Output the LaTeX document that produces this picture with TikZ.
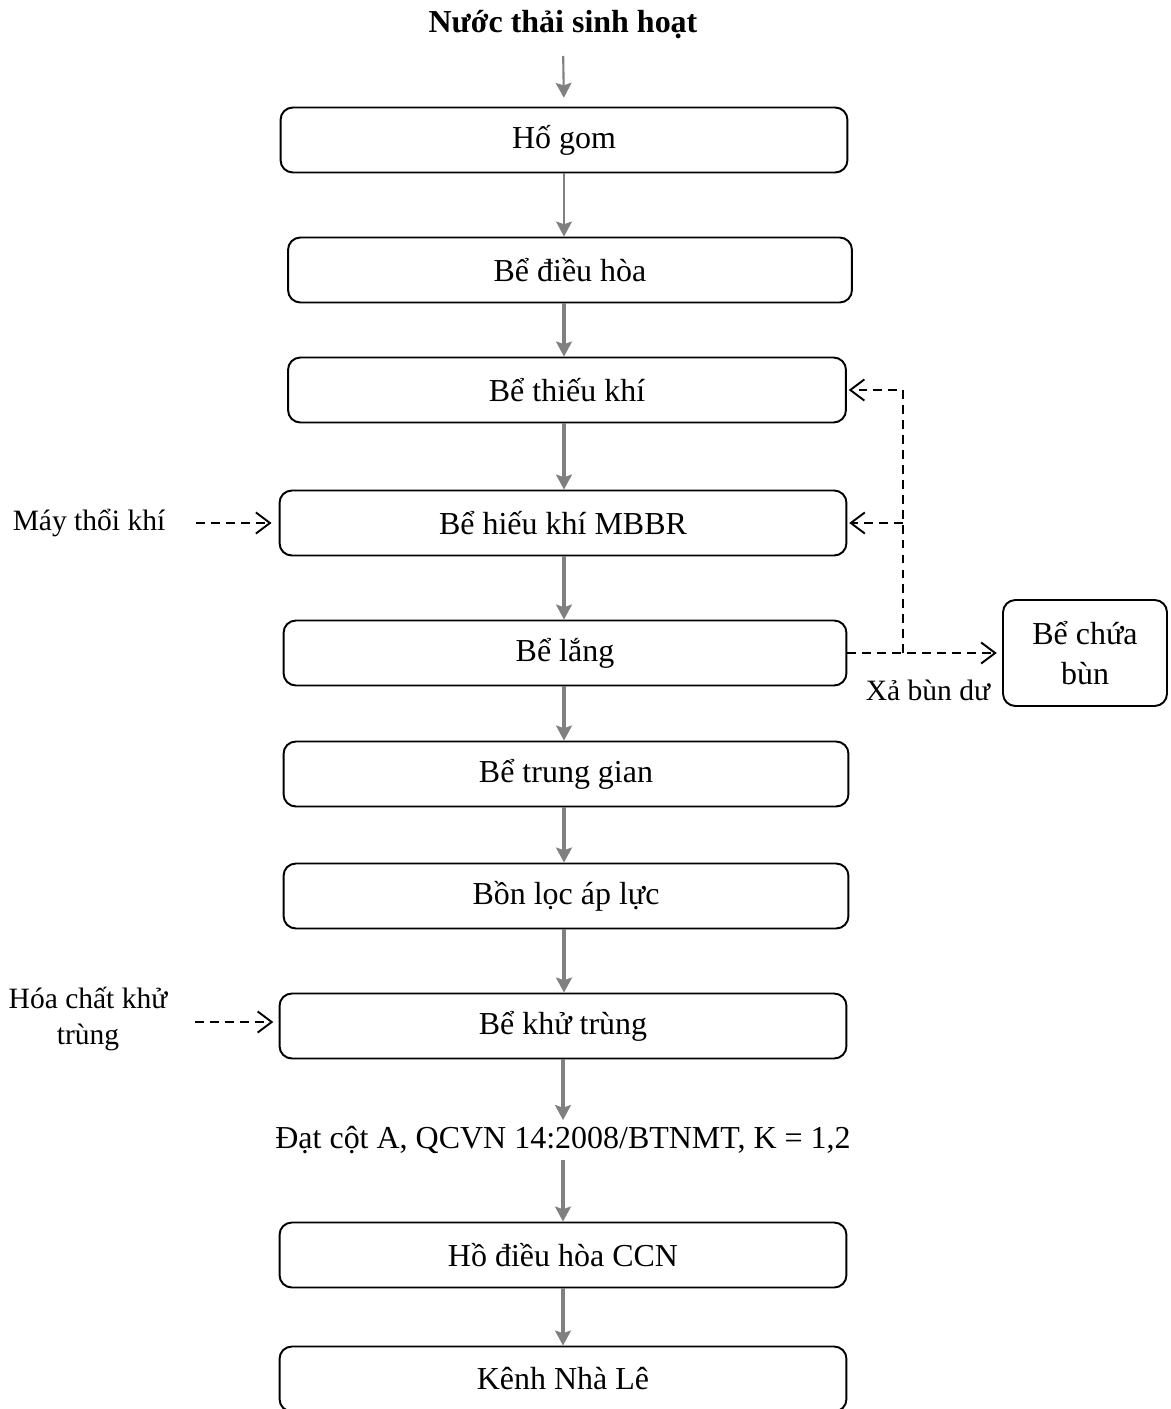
\documentclass[tikz,border=0pt]{standalone}
\usepackage{fontspec}
\setmainfont{Liberation Serif}
\usetikzlibrary{arrows.meta}

\tikzset{
  tank/.style={draw, line width=1.1pt, rounded corners=7pt, minimum width=11.34cm, minimum height=1.3cm},
  flow/.style={draw=gray, line width=2.2pt, -{Stealth[length=8.5pt,width=9pt,inset=1.5pt]}},
  feed/.style={line width=1.1pt, dash pattern=on 5pt off 3.5pt, -{Straight Barb[length=8pt,width=12pt]}},
  sidelabel/.style={font=\fontsize{16.8}{21}\selectfont}
}

\begin{document}
\begin{tikzpicture}[x=0.02cm,y=-0.02cm,font=\fontsize{18.2}{21}\selectfont]
\clip (0,0) rectangle (1170,1409);

% Incoming wastewater
\node[font=\fontsize{18.2}{21}\selectfont\bfseries] (nuocthai) at (563,25) {Nước thải sinh hoạt};

% Treatment line
\node[tank] (hogom) at (564,140) {Hố gom};
\node[tank, minimum width=11.28cm] (dieuhoa) at (570,270) {Bể điều hòa};
\node[tank, minimum width=11.16cm] (thieukhi) at (567,390) {Bể thiếu khí};
\node[tank] (hieukhi) at (563,523) {Bể hiếu khí MBBR};
\node[tank, minimum width=11.26cm] (lang) at (565,653) {Bể lắng};
\node[tank, minimum width=11.3cm] (trunggian) at (566,774) {Bể trung gian};
\node[tank, minimum width=11.3cm] (locapluc) at (566,896) {Bồn lọc áp lực};
\node[tank] (khutrung) at (563,1026) {Bể khử trùng};
\node (dat) at (563,1140) {Đạt cột A, QCVN 14:2008/BTNMT, K = 1,2};
\node[tank] (hodieuhoa) at (563,1255) {Hồ điều hòa CCN};
\node[tank] (kenh) at (563,1379) {Kênh Nhà Lê};

% Sludge tank
\node[tank, minimum width=3.28cm, minimum height=2.12cm, align=center,
  font=\fontsize{18.2}{23}\selectfont] (chuabun) at (1085,653) {Bể chứa\\bùn};

% Side inputs
\node[sidelabel] (maythoi) at (89,523) {Máy thổi khí};
\node[sidelabel, align=center] (hoachat) at (88,1019) {Hóa chất khử\\trùng};

% Main flow arrows
\draw[flow, line width=1.2pt, shorten <=6pt, shorten >=5pt] (nuocthai.south) -- (hogom.north);
\draw[flow, line width=1.2pt] (hogom.south) -- (hogom.south |- dieuhoa.north);
\draw[flow] (hogom.south |- dieuhoa.south) -- (hogom.south |- thieukhi.north);
\draw[flow] (hogom.south |- thieukhi.south) -- (hogom.south |- hieukhi.north);
\draw[flow] (hogom.south |- hieukhi.south) -- (hogom.south |- lang.north);
\draw[flow] (hogom.south |- lang.south) -- (hogom.south |- trunggian.north);
\draw[flow] (hogom.south |- trunggian.south) -- (hogom.south |- locapluc.north);
\draw[flow] (hogom.south |- locapluc.south) -- (hogom.south |- khutrung.north);
\draw[flow] (khutrung.south) -- (dat.north);
\draw[flow] (dat.south) -- (hodieuhoa.north);
\draw[flow] (hodieuhoa.south) -- (kenh.north);

% Sludge recirculation and discharge
\coordinate (nhanh) at (903,653);
\draw[feed, shorten >=3pt] (lang.east) -- (chuabun.west);
\node[sidelabel] (xabun) at (928,690) {Xả bùn dư};
\draw[feed, shorten >=1pt] (nhanh) |- (thieukhi.east);
\draw[feed, shorten >=1pt] (nhanh |- hieukhi.east) -- (hieukhi.east);

% Air and chemical dosing
\draw[feed, shorten <=14pt, shorten >=4pt] (maythoi.east) -- (hieukhi.west);
\draw[feed, shorten >=3pt] (195,1022) -- (khutrung.west |- 0,1022);
\end{tikzpicture}
\end{document}
